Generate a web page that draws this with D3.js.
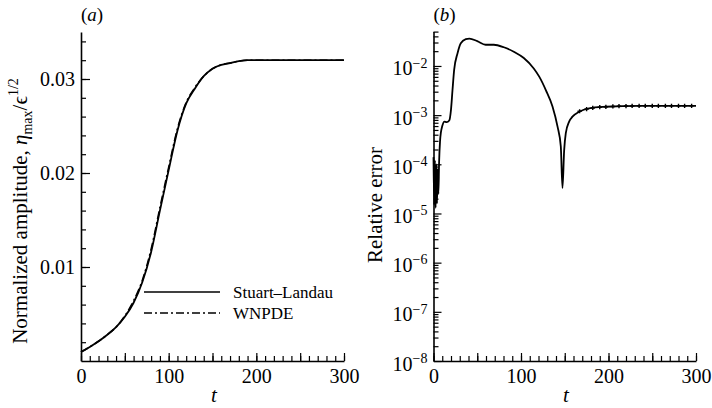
<!DOCTYPE html>
<html>
<head>
<meta charset="utf-8">
<script src="https://cdn.jsdelivr.net/npm/d3@7"></script>
<style>
  body { margin: 0; background: #fff; }
  svg { display: block; }
  text { font-family: "Times New Roman", "Liberation Serif", Tinos, "DejaVu Serif", serif; fill: #000; }
</style>
</head>
<body>
<div id="chart"></div>
<script>
// Data
// (a) normalized amplitude vs t
const ampT = [0, 10, 20, 30, 40, 50, 60, 70, 80, 90, 100, 110, 120, 130, 140, 150, 160, 170, 180, 190, 200, 250, 300];
const ampStuartLandau = [0.00096, 0.0015, 0.0021, 0.0028, 0.0036, 0.0047, 0.0062, 0.0084, 0.0116, 0.0160, 0.0203, 0.0245, 0.0274, 0.0290, 0.0303, 0.0311, 0.0315, 0.0317, 0.0319, 0.0320, 0.0320, 0.0320, 0.0320];
const ampWNPDE = [0.00096, 0.0015, 0.0021, 0.0028, 0.0036, 0.0048, 0.0064, 0.0086, 0.0119, 0.0163, 0.0206, 0.0247, 0.0275, 0.0291, 0.0303, 0.0311, 0.0315, 0.0317, 0.0319, 0.0320, 0.0320, 0.0320, 0.0320];
const legendLabels = ["Stuart\u2013Landau", "WNPDE"];

// (b) relative error vs t
const errT = [0, 0.8, 1.6, 2.4, 3.2, 4.0, 4.8, 5.6, 6.4, 7.5, 8.5, 10, 12.5, 15, 18, 20, 21.7, 23.6, 27.4, 31.2, 36.9, 41, 50, 59.5, 69, 80.4, 91.8, 103.2, 114.6, 121, 128.5, 136, 141.7, 145.5, 147.4, 149.3, 151.2, 155, 158.8, 166.4, 177.8, 196.8, 235, 300];
const errVal = [1.4e-4, 1.5e-5, 1.2e-4, 1.3e-5, 1.0e-4, 1.6e-5, 8e-5, 2.5e-5, 1.1e-4, 3e-4, 4.5e-4, 6e-4, 7.4e-4, 7.2e-4, 7.8e-4, 1.3e-3, 3.2e-3, 8.3e-3, 1.8e-2, 2.9e-2, 3.5e-2, 3.6e-2, 3.2e-2, 2.7e-2, 2.7e-2, 2.4e-2, 1.95e-2, 1.45e-2, 8.9e-3, 6e-3, 3.2e-3, 1.5e-3, 5.9e-4, 2.3e-4, 3.3e-5, 1.9e-4, 4.3e-4, 7.4e-4, 9.3e-4, 1.17e-3, 1.38e-3, 1.48e-3, 1.55e-3, 1.55e-3];
// small marks along the late plateau
const errMarkT = [167, 175, 182, 190, 197, 205, 212, 220, 227, 235, 242, 250, 257, 265, 272, 280, 287, 295];
const errMarkVal = [1.2e-3, 1.33e-3, 1.4e-3, 1.45e-3, 1.48e-3, 1.5e-3, 1.52e-3, 1.53e-3, 1.54e-3, 1.55e-3, 1.55e-3, 1.55e-3, 1.55e-3, 1.55e-3, 1.55e-3, 1.55e-3, 1.55e-3, 1.55e-3];

const xTicksMajor = [0, 50, 100, 150, 200, 250, 300];
const xTickLabels = [0, 100, 200, 300];
const ampTicks = [0.01, 0.02, 0.03];
const errDecades = [-8, -7, -6, -5, -4, -3, -2];

const W = 712, H = 408;
const svg = d3.select("#chart").append("svg").attr("width", W).attr("height", H);

const AXIS_W = 1.6;

function styleAxis(g) {
  g.attr("font-family", null).attr("font-size", null);
  g.selectAll("path.domain").attr("stroke", "#000").attr("stroke-width", AXIS_W);
  g.selectAll(".tick line").attr("stroke", "#000").attr("stroke-width", 1.2);
  g.selectAll(".tick text").attr("font-size", 20);
}

function drawXAxis(x, y0) {
  const minor = svg.append("g").attr("transform", `translate(0,${y0})`)
    .call(d3.axisBottom(x).tickValues(d3.range(0, 301, 10)).tickSizeInner(-5).tickSizeOuter(0).tickFormat(""));
  minor.select("path.domain").remove();
  styleAxis(minor);
  const major = svg.append("g").attr("transform", `translate(0,${y0})`)
    .call(d3.axisBottom(x).tickValues(xTicksMajor).tickSizeInner(-8).tickSizeOuter(0).tickPadding(8)
      .tickFormat(d => xTickLabels.includes(d) ? d : ""));
  styleAxis(major);
}

// ---------- panel (a)
const xa = d3.scaleLinear().domain([0, 300]).range([81, 344]);
const ya = d3.scaleLinear().domain([0, 0.035]).range([361, 32]);

drawXAxis(xa, 361);
{
  const minor = svg.append("g").attr("transform", "translate(81,0)")
    .call(d3.axisLeft(ya).tickValues(d3.range(0.002, 0.0351, 0.002)).tickSizeInner(-5).tickSizeOuter(0).tickFormat(""));
  minor.select("path.domain").remove();
  styleAxis(minor);
  const major = svg.append("g").attr("transform", "translate(81,0)")
    .call(d3.axisLeft(ya).tickValues(ampTicks).tickSizeInner(-9).tickSizeOuter(0).tickPadding(6).tickFormat(d3.format(".2f")));
  styleAxis(major);
}

const lineA = d3.line().x(d => xa(d[0])).y(d => ya(d[1])).curve(d3.curveMonotoneX);
svg.append("path").attr("d", lineA(d3.zip(ampT, ampStuartLandau)))
  .attr("fill", "none").attr("stroke", "#000").attr("stroke-width", 1.8);
svg.append("path").attr("d", lineA(d3.zip(ampT, ampWNPDE)))
  .attr("fill", "none").attr("stroke", "#000").attr("stroke-width", 1.6)
  .attr("stroke-dasharray", "8,3,2,3");

// legend
const legend = svg.append("g").attr("transform", "translate(144,292)");
legendLabels.forEach((lab, i) => {
  const g = legend.append("g").attr("transform", `translate(0,${i * 21})`);
  g.append("line").attr("x1", 0).attr("x2", 76).attr("y1", 0).attr("y2", 0)
    .attr("stroke", "#000").attr("stroke-width", 1.6)
    .attr("stroke-dasharray", i === 0 ? null : "8,3,2,3");
  g.append("text").attr("x", 89).attr("y", 6).attr("font-size", 17).text(lab);
});

svg.append("text").attr("x", 81).attr("y", 21).attr("font-size", 19).attr("font-style", "italic")
  .html('<tspan font-style="normal">(</tspan>a<tspan font-style="normal">)</tspan>');

{
  const t = svg.append("text").attr("transform", "translate(27,211) rotate(-90)")
    .attr("text-anchor", "middle").attr("font-size", 21);
  t.append("tspan").text("Normalized amplitude, ");
  t.append("tspan").attr("font-style", "italic").text("\u03b7");
  t.append("tspan").attr("font-size", 14).attr("dy", 5).text("max");
  t.append("tspan").attr("dy", -5).text("/");
  t.append("tspan").text("\u03f5");
  t.append("tspan").attr("font-size", 14).attr("dy", -9).text("1/2");
}
svg.append("text").attr("x", 214).attr("y", 402).attr("text-anchor", "middle")
  .attr("font-size", 21).attr("font-style", "italic").text("t");

// ---------- panel (b)
const xb = d3.scaleLinear().domain([0, 300]).range([433.5, 696]);
const yb = d3.scaleLog().domain([1e-8, 5e-2]).range([361, 31.6]);

drawXAxis(xb, 361);
{
  const minorVals = [];
  errDecades.forEach(e => d3.range(2, 10).forEach(k => {
    const v = k * Math.pow(10, e);
    if (v <= 5e-2) minorVals.push(v);
  }));
  const minor = svg.append("g").attr("transform", "translate(433.5,0)")
    .call(d3.axisLeft(yb).tickValues(minorVals).tickSizeInner(-5).tickSizeOuter(0).tickFormat(""));
  minor.select("path.domain").remove();
  styleAxis(minor);
  const major = svg.append("g").attr("transform", "translate(433.5,0)")
    .call(d3.axisLeft(yb).tickValues(errDecades.map(e => Math.pow(10, e))).tickSizeInner(-8).tickSizeOuter(0).tickPadding(6).tickFormat(""));
  styleAxis(major);
  major.selectAll(".tick").each(function (d) {
    const e = Math.round(Math.log10(d));
    const txt = d3.select(this).select("text").attr("dy", "0.45em");
    txt.append("tspan").text("10");
    txt.append("tspan").attr("font-size", 14).attr("dy", "-0.55em").text("\u2212" + Math.abs(e));
  });
}

const lineB = d3.line().x(d => xb(d[0])).y(d => yb(d[1])).curve(d3.curveMonotoneX);
svg.append("path").attr("d", lineB(d3.zip(errT, errVal)))
  .attr("fill", "none").attr("stroke", "#000").attr("stroke-width", 1.8);

svg.append("g").selectAll("path")
  .data(d3.zip(errMarkT, errMarkVal))
  .join("path")
  .attr("transform", d => `translate(${xb(d[0])},${yb(d[1])})`)
  .attr("d", d3.symbol(d3.symbolCross, 10))
  .attr("fill", "#000");

svg.append("text").attr("x", 433.5).attr("y", 21).attr("font-size", 19).attr("font-style", "italic")
  .html('<tspan font-style="normal">(</tspan>b<tspan font-style="normal">)</tspan>');
svg.append("text").attr("transform", "translate(382,205) rotate(-90)")
  .attr("text-anchor", "middle").attr("font-size", 21).text("Relative error");
svg.append("text").attr("x", 566).attr("y", 402).attr("text-anchor", "middle")
  .attr("font-size", 21).attr("font-style", "italic").text("t");
</script>
</body>
</html>
